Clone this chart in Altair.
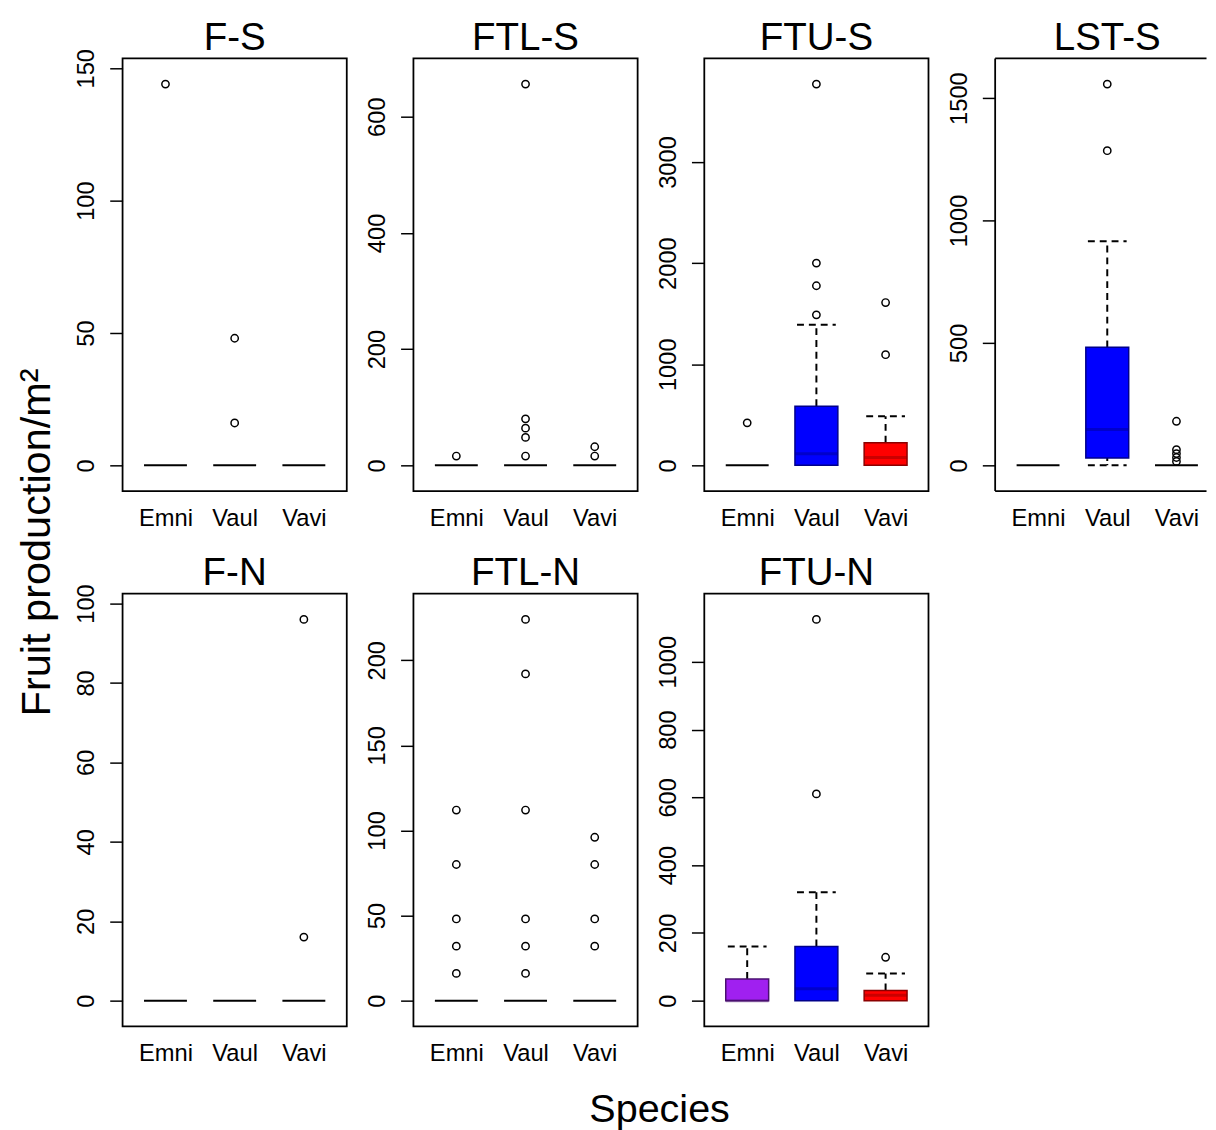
import json
import altair as alt
import pandas as pd

SPECIES = ["Emni", "Vaul", "Vavi"]
PANELS = ["F-S", "FTL-S", "FTU-S", "LST-S", "F-N", "FTL-N", "FTU-N"]

# box statistics per panel, in species order Emni, Vaul, Vavi
LOWER = {
    "F-S": [0, 0, 0], "FTL-S": [0, 0, 0], "FTU-S": [0, 0, 0], "LST-S": [0, 0, 0],
    "F-N": [0, 0, 0], "FTL-N": [0, 0, 0], "FTU-N": [0, 0, 0],
}
Q1 = {
    "F-S": [0, 0, 0], "FTL-S": [0, 0, 0], "FTU-S": [0, 0, 0], "LST-S": [0, 30, 0],
    "F-N": [0, 0, 0], "FTL-N": [0, 0, 0], "FTU-N": [0, 0, 0],
}
MEDIAN = {
    "F-S": [0, 0, 0], "FTL-S": [0, 0, 0], "FTU-S": [0, 115, 78], "LST-S": [0, 146, 0],
    "F-N": [0, 0, 0], "FTL-N": [0, 0, 0], "FTU-N": [0, 35, 16],
}
Q3 = {
    "F-S": [0, 0, 0], "FTL-S": [0, 0, 0], "FTU-S": [0, 585, 224], "LST-S": [0, 482, 0],
    "F-N": [0, 0, 0], "FTL-N": [0, 0, 0], "FTU-N": [64, 160, 30],
}
UPPER = {
    "F-S": [0, 0, 0], "FTL-S": [0, 0, 0], "FTU-S": [0, 1390, 486], "LST-S": [0, 915, 0],
    "F-N": [0, 0, 0], "FTL-N": [0, 0, 0], "FTU-N": [160, 320, 80],
}
OUTLIERS = {
    "F-S": [[144], [16, 48], []],
    "FTL-S": [[16], [16, 48, 64, 80, 656], [16, 32]],
    "FTU-S": [[420], [1488, 1776, 2000, 3770], [1094, 1610]],
    "LST-S": [[], [1285, 1557], [16, 32, 48, 64, 180]],
    "F-N": [[], [], [16, 96]],
    "FTL-N": [[16, 32, 48, 80, 112], [16, 32, 48, 112, 192, 224], [32, 48, 80, 96]],
    "FTU-N": [[], [610, 1125], [128]],
}
Y_TICKS = {
    "F-S": [0, 50, 100, 150],
    "FTL-S": [0, 200, 400, 600],
    "FTU-S": [0, 1000, 2000, 3000],
    "LST-S": [0, 500, 1000, 1500],
    "F-N": [0, 20, 40, 60, 80, 100],
    "FTL-N": [0, 50, 100, 150, 200],
    "FTU-N": [0, 200, 400, 600, 800, 1000],
}

FILL = ["#A020F0", "#0000FF", "#FF0000"]
BORDER = ["#4A1070", "#00008B", "#8B0000"]
FONT = "Liberation Sans"
PW, PH = 227, 438
XMIN, XMAX = 0.38, 3.62
CUT_W = 214  # the right-most panel runs past the picture's edge in the original

stat_rows = []
out_rows = []
for p in PANELS:
    for i, s in enumerate(SPECIES):
        stat_rows.append({
            "panel": p, "species": s, "idx": i + 1,
            "lower": LOWER[p][i], "q1": Q1[p][i], "median": MEDIAN[p][i],
            "q3": Q3[p][i], "upper": UPPER[p][i],
        })
        for v in OUTLIERS[p][i]:
            out_rows.append({"panel": p, "species": s, "idx": i + 1, "value": v})
stats = pd.DataFrame(stat_rows)
outl = pd.DataFrame(out_rows)
names = pd.DataFrame({"panel": PANELS})

label_expr = json.dumps(SPECIES) + "[datum.value - 1]"
dash = [7, 5]


def panel(p, width=PW):
    xmax = XMIN + (XMAX - XMIN) * width / PW
    xs = alt.Scale(domain=[XMIN, xmax], nice=False, zero=False)
    ys = alt.Scale(padding=26, nice=False, zero=False)
    xaxis = alt.Axis(values=[1, 2, 3], labelExpr=label_expr, title=None, ticks=False,
                     domain=False, grid=False, labelPadding=16, labelAngle=0,
                     labelAlign="center", labelBaseline="top")
    yaxis = alt.Axis(values=Y_TICKS[p], title=None, format="d", domain=False, grid=False,
                     ticks=True, tickSize=13, labelPadding=16, labelAngle=270,
                     labelAlign="center", labelBaseline="alphabetic")

    def X(f):
        return alt.X(f, scale=xs, axis=xaxis)

    def Y(f):
        return alt.Y(f, scale=ys, axis=yaxis)

    base = alt.Chart(stats).transform_filter(alt.datum.panel == p).transform_calculate(
        xl="datum.idx - 0.31", xr="datum.idx + 0.31",
        cl="datum.idx - 0.28", cr="datum.idx + 0.28",
    )
    boxes = base.transform_filter("datum.q3 > datum.q1").mark_rect(strokeWidth=1.5).encode(
        x=X("xl:Q"), x2="xr:Q",
        y=Y("q1:Q"), y2="q3:Q",
        color=alt.Color("species:N", scale=alt.Scale(domain=SPECIES, range=FILL), legend=None),
        stroke=alt.Stroke("species:N", scale=alt.Scale(domain=SPECIES, range=BORDER), legend=None),
    )
    medians = base.transform_filter("datum.q3 > datum.q1").mark_rule(
        strokeWidth=3, strokeOpacity=0.45
    ).encode(
        x=X("xl:Q"), x2="xr:Q",
        y=Y("median:Q"),
        stroke=alt.Stroke("species:N", scale=alt.Scale(domain=SPECIES, range=BORDER), legend=None),
    )
    flat = base.transform_filter("datum.q3 == datum.q1").mark_rule(
        strokeWidth=2, color="black"
    ).encode(
        x=X("xl:Q"), x2="xr:Q",
        y=Y("median:Q"),
    )
    up_whisk = base.transform_filter("datum.upper > datum.q3").mark_rule(
        strokeWidth=2, color="black", strokeDash=dash
    ).encode(
        x=X("idx:Q"),
        y=Y("q3:Q"), y2="upper:Q",
    )
    up_cap = base.transform_filter("datum.upper > datum.q3").mark_rule(
        strokeWidth=2, color="black", strokeDash=dash
    ).encode(
        x=X("cl:Q"), x2="cr:Q",
        y=Y("upper:Q"),
    )
    lo_whisk = base.transform_filter("datum.lower < datum.q1").mark_rule(
        strokeWidth=2, color="black", strokeDash=[3, 3]
    ).encode(
        x=X("idx:Q"),
        y=Y("q1:Q"), y2="lower:Q",
    )
    lo_cap = base.transform_filter("datum.lower < datum.q1").mark_rule(
        strokeWidth=2, color="black", strokeDash=dash
    ).encode(
        x=X("cl:Q"), x2="cr:Q",
        y=Y("lower:Q"),
    )
    points = alt.Chart(outl).transform_filter(alt.datum.panel == p).mark_point(
        shape="circle", filled=False, size=55, strokeWidth=1.5, color="black", opacity=1
    ).encode(
        x=X("idx:Q"),
        y=Y("value:Q"),
    )
    name = alt.Chart(names).transform_filter(alt.datum.panel == p)
    title = name.mark_text(
        font=FONT, fontSize=39, color="black", align="center", baseline="alphabetic"
    ).encode(
        text="panel:N", x=alt.value(PW / 2), y=alt.value(-9),
    )
    layers = [points, up_whisk, lo_whisk, boxes, medians, flat, up_cap, lo_cap, title]
    props = dict(width=width, height=PH)
    if width < PW:
        # frame open on the right, as the original is cropped there
        fr = name.mark_rule(color="black", strokeWidth=1.8)
        layers += [
            fr.encode(x=alt.value(0), x2=alt.value(width), y=alt.value(0)),
            fr.encode(x=alt.value(0), x2=alt.value(width), y=alt.value(PH)),
            fr.encode(x=alt.value(0), y=alt.value(0), y2=alt.value(PH)),
        ]
        props["view"] = alt.ViewBackground(strokeOpacity=0)
    return alt.layer(*layers).properties(**props)


row1 = alt.hconcat(*[panel(p, CUT_W if p == "LST-S" else PW) for p in PANELS[:4]],
                   spacing=17.5)
row2 = alt.hconcat(*[panel(p) for p in PANELS[4:]], spacing=17.5)
grid = alt.vconcat(row1, row2, spacing=22).properties(
    title=alt.TitleParams("Species", orient="bottom", fontSize=40, font=FONT, anchor="middle",
                          fontWeight="normal", color="black", offset=24, dx=19)
)
chart = alt.hconcat(grid).properties(
    title=alt.TitleParams("Fruit production/m²", orient="left", fontSize=42, font=FONT,
                          anchor="middle", fontWeight="normal", color="black", offset=15.7,
                          dx=32),
    padding={"left": 8, "top": 3, "right": 0, "bottom": 0},
).configure_view(
    stroke="black", strokeWidth=1.8
).configure_axis(
    labelFont=FONT, labelFontSize=24, labelColor="black", tickColor="black", tickWidth=1.5,
)

chart.save("out.html", embed_options={"renderer": "svg", "actions": False})
